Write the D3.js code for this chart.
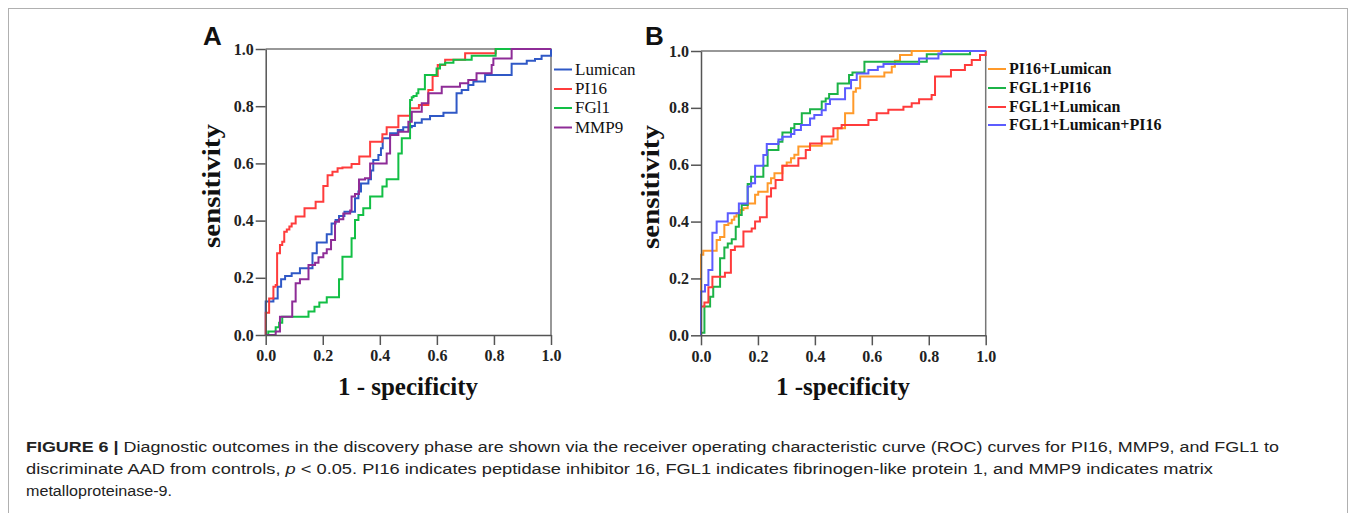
<!DOCTYPE html>
<html>
<head>
<meta charset="utf-8">
<script src="https://cdn.jsdelivr.net/npm/d3@7"></script>
<style>
  body { margin: 0; background: #fff; }
  svg { display: block; }
</style>
</head>
<body>
<svg id="fig"></svg>
<script>
// tick values shared by both panels
const ticks = [0, 0.2, 0.4, 0.6, 0.8, 1.0];

// Panel A - single markers (1 - specificity / sensitivity at each step)
const lumicanFpr = [0, 0.015, 0.027, 0.042, 0.054, 0.068, 0.091, 0.120, 0.164, 0.179, 0.214, 0.231, 0.245, 0.257, 0.276, 0.313, 0.325, 0.334, 0.360, 0.369, 0.377, 0.395, 0.404, 0.410, 0.436, 0.463, 0.482, 0.512, 0.523, 0.547, 0.576, 0.623, 0.669, 0.687, 0.710, 0.728, 0.769, 0.862, 0.915, 0.944, 0.967];
const lumicanTpr = [0.117, 0.117, 0.128, 0.169, 0.195, 0.206, 0.216, 0.233, 0.286, 0.323, 0.352, 0.390, 0.402, 0.416, 0.431, 0.478, 0.502, 0.530, 0.545, 0.575, 0.612, 0.629, 0.653, 0.688, 0.705, 0.717, 0.726, 0.731, 0.742, 0.754, 0.766, 0.777, 0.845, 0.857, 0.874, 0.886, 0.909, 0.948, 0.959, 0.965, 0.976];

const pi16Fpr = [0, 0.012, 0.027, 0.035, 0.040, 0.050, 0.058, 0.065, 0.074, 0.083, 0.091, 0.105, 0.136, 0.175, 0.202, 0.217, 0.234, 0.252, 0.269, 0.301, 0.328, 0.366, 0.409, 0.424, 0.465, 0.506, 0.537, 0.570, 0.585, 0.603, 0.629, 0.699, 0.806];
const pi16Tpr = [0.078, 0.128, 0.169, 0.175, 0.286, 0.315, 0.326, 0.361, 0.369, 0.379, 0.390, 0.414, 0.443, 0.466, 0.521, 0.559, 0.571, 0.583, 0.586, 0.598, 0.624, 0.676, 0.702, 0.726, 0.767, 0.793, 0.804, 0.857, 0.906, 0.944, 0.962, 0.985, 1.0];

const fgl1Fpr = [0.009, 0.035, 0.047, 0.058, 0.150, 0.171, 0.188, 0.214, 0.257, 0.269, 0.301, 0.313, 0.325, 0.342, 0.366, 0.409, 0.424, 0.465, 0.477, 0.506, 0.512, 0.518, 0.529, 0.535, 0.558, 0.599, 0.611, 0.629, 0.658, 0.722, 0.806];
const fgl1Tpr = [0.012, 0.027, 0.043, 0.064, 0.082, 0.099, 0.114, 0.132, 0.195, 0.274, 0.338, 0.402, 0.420, 0.443, 0.484, 0.519, 0.545, 0.635, 0.688, 0.822, 0.831, 0.836, 0.845, 0.859, 0.909, 0.932, 0.946, 0.952, 0.962, 0.976, 1.0];

const mmp9Fpr = [0.035, 0.050, 0.093, 0.105, 0.120, 0.150, 0.173, 0.185, 0.202, 0.214, 0.229, 0.243, 0.257, 0.272, 0.296, 0.301, 0.313, 0.327, 0.348, 0.366, 0.424, 0.436, 0.465, 0.500, 0.512, 0.547, 0.570, 0.617, 0.681, 0.710, 0.739, 0.792, 0.798, 0.862];
const mmp9Tpr = [0.012, 0.064, 0.117, 0.181, 0.195, 0.245, 0.253, 0.272, 0.286, 0.300, 0.332, 0.396, 0.405, 0.425, 0.435, 0.484, 0.493, 0.544, 0.548, 0.600, 0.635, 0.699, 0.711, 0.746, 0.781, 0.810, 0.845, 0.868, 0.880, 0.892, 0.915, 0.944, 0.967, 1.0];

// Panel B - combined markers
const pLumFpr = [0, 0.008, 0.055, 0.067, 0.082, 0.096, 0.108, 0.117, 0.125, 0.137, 0.149, 0.164, 0.190, 0.201, 0.234, 0.246, 0.258, 0.286, 0.301, 0.316, 0.328, 0.342, 0.383, 0.424, 0.459, 0.480, 0.506, 0.535, 0.544, 0.559, 0.644, 0.670, 0.681, 0.699, 0.740];
const pLumTpr = [0.283, 0.297, 0.335, 0.346, 0.388, 0.394, 0.406, 0.418, 0.429, 0.441, 0.447, 0.464, 0.494, 0.505, 0.535, 0.552, 0.570, 0.596, 0.608, 0.623, 0.635, 0.664, 0.667, 0.675, 0.689, 0.728, 0.781, 0.857, 0.869, 0.910, 0.924, 0.945, 0.966, 0.986, 1.0];

const fPiFpr = [0, 0.012, 0.032, 0.043, 0.067, 0.082, 0.094, 0.108, 0.122, 0.133, 0.143, 0.164, 0.176, 0.219, 0.234, 0.272, 0.286, 0.316, 0.328, 0.354, 0.383, 0.424, 0.438, 0.450, 0.480, 0.520, 0.532, 0.574, 0.793, 0.945];
const fPiTpr = [0.009, 0.101, 0.136, 0.171, 0.271, 0.309, 0.323, 0.338, 0.382, 0.423, 0.458, 0.532, 0.558, 0.596, 0.652, 0.681, 0.713, 0.728, 0.743, 0.781, 0.795, 0.822, 0.833, 0.849, 0.886, 0.916, 0.924, 0.962, 0.989, 1.0];

const fLumFpr = [0, 0.012, 0.026, 0.040, 0.084, 0.105, 0.119, 0.149, 0.178, 0.190, 0.207, 0.231, 0.246, 0.262, 0.286, 0.342, 0.368, 0.383, 0.424, 0.465, 0.494, 0.588, 0.617, 0.658, 0.711, 0.740, 0.766, 0.810, 0.822, 0.878, 0.927, 0.951, 0.980];
const fLumTpr = [0.101, 0.115, 0.169, 0.206, 0.220, 0.300, 0.312, 0.365, 0.376, 0.400, 0.415, 0.488, 0.517, 0.546, 0.596, 0.623, 0.652, 0.675, 0.699, 0.728, 0.740, 0.757, 0.781, 0.793, 0.804, 0.816, 0.830, 0.845, 0.910, 0.933, 0.951, 0.968, 0.986];

const fLumPiFpr = [0, 0.014, 0.026, 0.040, 0.055, 0.094, 0.133, 0.164, 0.176, 0.190, 0.219, 0.231, 0.272, 0.286, 0.316, 0.328, 0.351, 0.383, 0.398, 0.424, 0.438, 0.453, 0.506, 0.527, 0.547, 0.588, 0.621, 0.641, 0.766, 0.834, 0.845];
const fLumPiTpr = [0.154, 0.177, 0.230, 0.361, 0.400, 0.429, 0.464, 0.523, 0.535, 0.596, 0.634, 0.673, 0.689, 0.698, 0.708, 0.722, 0.740, 0.763, 0.775, 0.792, 0.814, 0.830, 0.869, 0.898, 0.921, 0.933, 0.945, 0.954, 0.974, 0.991, 1.0];

const panelASeries = [
  { name: "Lumican", fpr: lumicanFpr, tpr: lumicanTpr, color: "#2f58c6" },
  { name: "PI16", fpr: pi16Fpr, tpr: pi16Tpr, color: "#ff3c3c" },
  { name: "FGl1", fpr: fgl1Fpr, tpr: fgl1Tpr, color: "#12bf45" },
  { name: "MMP9", fpr: mmp9Fpr, tpr: mmp9Tpr, color: "#8e2c97" }
];
const panelBSeries = [
  { name: "PI16+Lumican", fpr: pLumFpr, tpr: pLumTpr, color: "#ff9a2a" },
  { name: "FGL1+PI16", fpr: fPiFpr, tpr: fPiTpr, color: "#1cb347" },
  { name: "FGL1+Lumican", fpr: fLumFpr, tpr: fLumTpr, color: "#ff3b3b" },
  { name: "FGL1+Lumican+PI16", fpr: fLumPiFpr, tpr: fLumPiTpr, color: "#5c5cff" }
];

const width = 1355, height = 513;
const svg = d3.select("#fig").attr("width", width).attr("height", height);

// outer figure frame
svg.append("rect")
  .attr("x", 8.5).attr("y", 8.5)
  .attr("width", 1339).attr("height", 600)
  .attr("fill", "none").attr("stroke", "#b0b0b0");

const serif = "'Liberation Serif', 'Times New Roman', serif";

function drawPanel(series, o) {
  const x = d3.scaleLinear().domain([0, 1]).range([o.x0, o.x1]);
  const y = d3.scaleLinear().domain([0, 1]).range([o.y0, o.y1]);
  const g = svg.append("g");

  // top and right border of plot box
  g.append("path")
    .attr("d", `M${o.x0},${o.y1}H${o.x1}V${o.y0}`)
    .attr("fill", "none").attr("stroke", "#777").attr("stroke-width", 1.5);

  const line = d3.line()
    .x(d => x(d[0])).y(d => y(d[1]))
    .curve(d3.curveStepAfter);

  series.forEach(s => {
    const pts = [[0, 0]].concat(s.fpr.map((f, i) => [f, s.tpr[i]]), [[1, 1]]);
    g.append("path")
      .attr("d", line(pts))
      .attr("fill", "none")
      .attr("stroke", s.color)
      .attr("stroke-width", 2);
  });

  const fmt = d3.format(".1f");
  const xAxis = g.append("g")
    .attr("transform", `translate(0,${o.y0})`)
    .call(d3.axisBottom(x).tickValues(ticks).tickFormat(fmt).tickSize(10).tickSizeOuter(0).tickPadding(5));
  const yAxis = g.append("g")
    .attr("transform", `translate(${o.x0},0)`)
    .call(d3.axisLeft(y).tickValues(ticks).tickFormat(fmt).tickSize(10).tickSizeOuter(0).tickPadding(2));
  [xAxis, yAxis].forEach(a => {
    a.selectAll("path, line").attr("stroke", "#555").attr("stroke-width", 1.5);
    a.selectAll("text")
      .style("font-family", serif).style("font-weight", "bold")
      .style("font-size", "16px").attr("fill", "#222");
  });

  // axis titles
  g.append("text")
    .attr("transform", `translate(${o.yTitleX},${o.yTitleY}) rotate(-90)`)
    .attr("text-anchor", "middle")
    .attr("textLength", 124).attr("lengthAdjust", "spacingAndGlyphs")
    .style("font-family", serif).style("font-weight", "bold").style("font-size", "25px")
    .attr("fill", "#111")
    .text("sensitivity");
  g.append("text")
    .attr("x", o.xTitleX).attr("y", 395)
    .attr("text-anchor", "middle")
    .style("font-family", serif).style("font-weight", "bold").style("font-size", "25px")
    .attr("fill", "#111")
    .text(o.xTitle);

  // panel letter
  g.append("text")
    .attr("x", o.letterX).attr("y", 45)
    .style("font-family", "'Liberation Sans', Arial, sans-serif")
    .style("font-weight", "bold").style("font-size", "26px")
    .attr("fill", "#111")
    .text(o.letter);

  // legend
  const leg = g.append("g");
  series.forEach((s, i) => {
    const ly = o.legY[i];
    leg.append("line")
      .attr("x1", o.legX).attr("x2", o.legX + 18)
      .attr("y1", ly).attr("y2", ly)
      .attr("stroke", s.color).attr("stroke-width", 2);
    leg.append("text")
      .attr("x", o.legX + 21).attr("y", ly + 5)
      .style("font-family", serif)
      .style("font-weight", o.legBold ? "bold" : "normal")
      .style("font-size", o.legSize + "px")
      .attr("fill", "#111")
      .text(s.name);
  });
}

drawPanel(panelASeries, {
  x0: 265.7, x1: 551, y0: 335, y1: 49,
  yTitleX: 220, yTitleY: 186, xTitleX: 408, xTitle: "1 - specificity",
  letter: "A", letterX: 203,
  legX: 554, legY: [69.5, 89, 108, 127.5], legBold: false, legSize: 17
});
drawPanel(panelBSeries, {
  x0: 701, x1: 985.7, y0: 335.3, y1: 51,
  yTitleX: 659, yTitleY: 187, xTitleX: 843, xTitle: "1 -specificity",
  letter: "B", letterX: 645,
  legX: 988, legY: [69, 88, 107, 125], legBold: true, legSize: 16
});

// caption
const cap = svg.append("g")
  .style("font-family", "'Liberation Sans', Arial, sans-serif")
  .style("font-size", "15.5px")
  .attr("fill", "#222");
const l1 = cap.append("text").attr("x", 26).attr("y", 452)
  .attr("textLength", 1253).attr("lengthAdjust", "spacingAndGlyphs");
l1.append("tspan").style("font-weight", "bold").text("FIGURE 6 | ");
l1.append("tspan").text("Diagnostic outcomes in the discovery phase are shown via the receiver operating characteristic curve (ROC) curves for PI16, MMP9, and FGL1 to");
const l2 = cap.append("text").attr("x", 26).attr("y", 474)
  .attr("textLength", 1187).attr("lengthAdjust", "spacingAndGlyphs");
l2.append("tspan").text("discriminate AAD from controls, ");
l2.append("tspan").style("font-style", "italic").text("p");
l2.append("tspan").text(" < 0.05. PI16 indicates peptidase inhibitor 16, FGL1 indicates fibrinogen-like protein 1, and MMP9 indicates matrix");
cap.append("text").attr("x", 26).attr("y", 496)
  .attr("textLength", 146).attr("lengthAdjust", "spacingAndGlyphs")
  .text("metalloproteinase-9.");
</script>
</body>
</html>
